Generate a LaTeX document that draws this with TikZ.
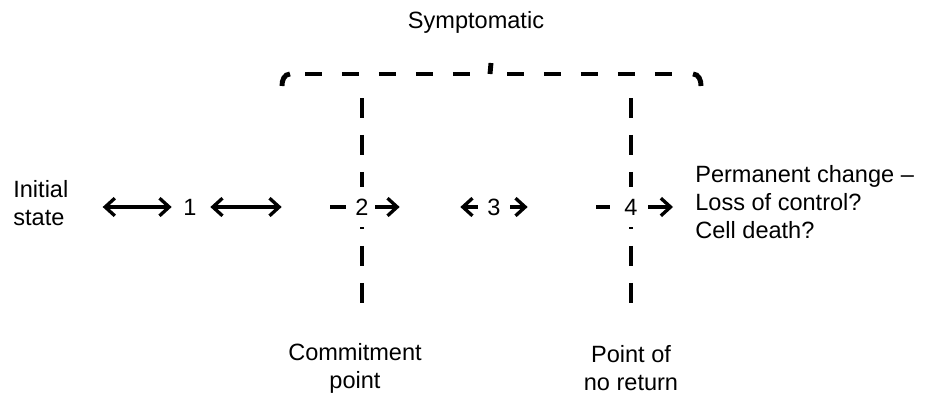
\documentclass[tikz,border=0pt]{standalone}
\usepackage{fontspec}
\setmainfont{Liberation Sans}
\usetikzlibrary{arrows.meta}

\begin{document}
\begin{tikzpicture}[x=0.02cm, y=-0.02cm,
	txt/.style={font=\fontsize{13.4}{16}\selectfont, inner sep=0},
	stage/.style={txt, fill=white, minimum width=0.52cm, minimum height=0.8cm},
	barb/.style={line width=1.9pt, -{Straight Barb[length=5.5pt,width=10pt]}},
	twoway/.style={line width=1.9pt, {Straight Barb[length=5.5pt,width=10pt]}-{Straight Barb[length=5.5pt,width=10pt]}},
	stub/.style={line width=1.9pt},
	fence/.style={line width=2.8pt, dash pattern=on 11.38pt off 9.67pt},
	brace/.style={line width=2.8pt, dash pattern=on 9.67pt off 11.38pt},
	]
	\useasboundingbox (0,0) rectangle (931,396);

	% bracket over the symptomatic stages
	\node[txt] (sym) at (476,22) {Symptomatic};
	\draw[brace] (305,74) -- (470,74);
	\draw[brace] (507,74) -- (672,74);
	\draw[line width=2.8pt] (282,86) to[out=92,in=180] (290,74);
	\draw[line width=2.8pt] (693,74) to[out=0,in=88] (701,86);
	\draw[line width=2.8pt] (490,74) -- (491,63);

	% the two thresholds
	\draw[fence] (362,98) -- (362,305);
	\draw[fence] (631,98) -- (631,305);

	\node[txt, align=left, anchor=west] (init) at (13,203) {Initial\\state};
	\node[stage] (s1) at (190,207) {1};
	\node[stage] (s2) at (362,207) {2};
	\node[stage] (s3) at (494,207) {3};
	\node[stage] (s4) at (631,207) {4};
	\node[txt, align=left, anchor=west] (perm) at (695,202) {Permanent change –\\Loss of control?\\Cell death?};

	\node[txt, align=center] (commit) at (355,368) {Commitment\\point};
	\node[txt, align=center] (noreturn) at (631,368) {Point of\\no return};

	% steps between the stages
	\draw[twoway, shorten <=0.68cm, shorten >=0.1cm] (init.east |- s1) -- (s1.west);
	\draw[twoway, shorten <=0.14cm, shorten >=1.34cm] (s1.east) -- (s2.west);
	\draw[stub, shorten <=2.54cm, shorten >=0.06cm] (s1.east) -- (s2.west);
	\draw[barb, shorten >=1.62cm] (s2.east) -- (s3.west);
	\draw[barb, shorten <=0.06cm, shorten >=1.7cm] (s3.west) -- (s2.east);
	\draw[barb, shorten <=0.06cm, shorten >=1.8cm] (s3.east) -- (s4.west);
	\draw[stub, shorten <=1.78cm, shorten >=0.16cm] (s3.east) -- (s4.west);
	\draw[barb, shorten <=0.08cm, shorten >=0.44cm] (s4.east) -- (s4.east -| perm.west);
\end{tikzpicture}
\end{document}
